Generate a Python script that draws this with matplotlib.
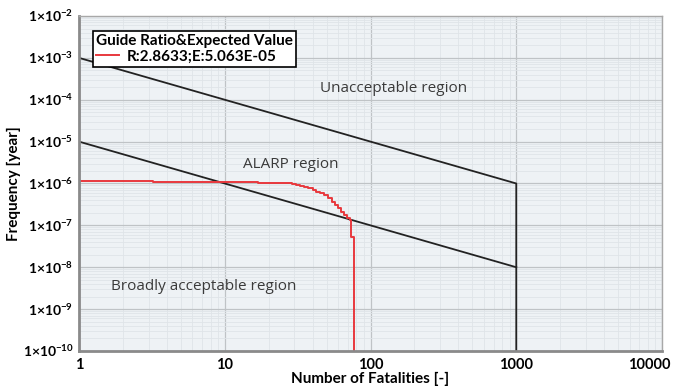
import matplotlib
matplotlib.use('Agg')
import matplotlib.pyplot as plt
from matplotlib.ticker import LogLocator, FixedLocator, FixedFormatter, NullFormatter

plt.rcParams['mathtext.fontset'] = 'custom'
plt.rcParams['mathtext.bf'] = 'Lato:bold'
plt.rcParams['mathtext.rm'] = 'Lato'

# criterion lines (F-N diagram)
upper_n = [1, 1000, 1000]
upper_f = [1e-3, 1e-6, 1e-10]
lower_n = [1, 1000]
lower_f = [1e-5, 1e-8]

# computed F-N curve (step)
curve_n = [1, 3.2, 17, 23, 27, 29, 31, 33, 35, 37.5, 40, 42.5, 45, 48, 51, 54, 57,
           60, 63, 66, 69, 72, 74, 77.5, 77.5]
curve_f = [1.12e-6, 1.06e-6, 1.04e-6, 1.02e-6, 1.0e-6, 9.6e-7, 9.2e-7, 8.8e-7, 8.2e-7,
           7.6e-7, 7.0e-7, 6.4e-7, 5.8e-7, 5.2e-7, 4.4e-7, 3.6e-7, 3.0e-7, 2.6e-7,
           2.1e-7, 1.75e-7, 1.5e-7, 1.35e-7, 5.4e-8, 1e-10, 1e-10]

legend_title = 'Guide Ratio&Expected Value'
legend_label = 'R:2.8633;E:5.063E-05'

x_ticks = [1, 10, 100, 1000, 10000]
y_exps = list(range(-10, -1))

fig = plt.figure(figsize=(6.73, 3.9), dpi=100)
ax = fig.add_axes([0.1174, 0.1, 0.8663, 0.859])
ax.set_facecolor('#eef2f5')

ax.set_xscale('log')
ax.set_yscale('log')
ax.set_xlim(1, 10000)
ax.set_ylim(1e-10, 1e-2)

ax.plot(upper_n, upper_f, color='#222222', lw=1.3)
ax.plot(lower_n, lower_f, color='#222222', lw=1.3)
line, = ax.step(curve_n, curve_f, where='post', color='#e8383d', lw=1.4)

# last x label drawn separately, shifted left as in the original
x_labels = [str(v) for v in x_ticks]
ax.xaxis.set_major_locator(FixedLocator(x_ticks))
ax.xaxis.set_major_formatter(FixedFormatter(x_labels[:-1] + ['']))
ax.annotate(x_labels[-1], (x_ticks[-1], 0), xycoords=('data', 'axes fraction'),
            xytext=(-9, -5), textcoords='offset points', ha='center', va='top',
            fontsize=10.5, fontweight='bold', family='Lato', annotation_clip=False)
ax.xaxis.set_minor_locator(LogLocator(base=10, subs=range(2, 10), numticks=20))
ax.xaxis.set_minor_formatter(NullFormatter())
ax.yaxis.set_major_locator(FixedLocator([10.0 ** e for e in y_exps]))
ax.yaxis.set_major_formatter(FixedFormatter([r'$\mathbf{1{\times}10^{%d}}$' % e for e in y_exps]))
ax.yaxis.set_minor_locator(LogLocator(base=10, subs=range(2, 10), numticks=20))
ax.yaxis.set_minor_formatter(NullFormatter())

ax.grid(which='major', color='#bfc3c6', lw=0.9)
ax.grid(which='minor', color='#dfe4e8', lw=0.6)
ax.set_axisbelow(True)
ax.tick_params(which='both', length=0)
ax.tick_params(axis='x', labelsize=10.5, pad=5)
ax.tick_params(axis='y', labelsize=10, pad=4)
for t in ax.get_xticklabels():
    t.set_fontweight('bold')
    t.set_family('Lato')

for s in ['left', 'bottom']:
    ax.spines[s].set_color('#8a8a8a')
    ax.spines[s].set_linewidth(2)
for s in ['top', 'right']:
    ax.spines[s].set_color('#a8a8a8')
    ax.spines[s].set_linewidth(1)

ax.set_xlabel('Number of Fatalities [-]', fontweight='bold', fontsize=11, family='Lato', labelpad=0)
ax.set_ylabel('Frequency [year]', fontweight='bold', fontsize=11, family='Lato', labelpad=1)

txt = dict(color='#3a3a3a', fontsize=11, family='Open Sans')
ax.text(45, 1.9e-4, 'Unacceptable region', va='center', ha='left', **txt)
ax.text(13.4, 2.8e-6, 'ALARP region', va='center', ha='left', **txt)
ax.text(1.66, 3.4e-9, 'Broadly acceptable region', va='center', ha='left', **txt)

leg = ax.legend([line], [legend_label], title=legend_title, loc='upper left',
                bbox_to_anchor=(0.024, 0.955), fancybox=False, framealpha=1,
                edgecolor='black', prop={'weight': 'bold', 'size': 11, 'family': 'Lato'},
                handlelength=1.5, handletextpad=0.5, borderpad=0.2, labelspacing=0.1,
                borderaxespad=0)
leg.get_title().set_fontweight('bold')
leg.get_title().set_fontsize(11)
leg.get_title().set_family('Lato')
leg._legend_box.align = 'left'
leg.get_frame().set_linewidth(1.2)

fig.savefig('out.png', dpi=100)
